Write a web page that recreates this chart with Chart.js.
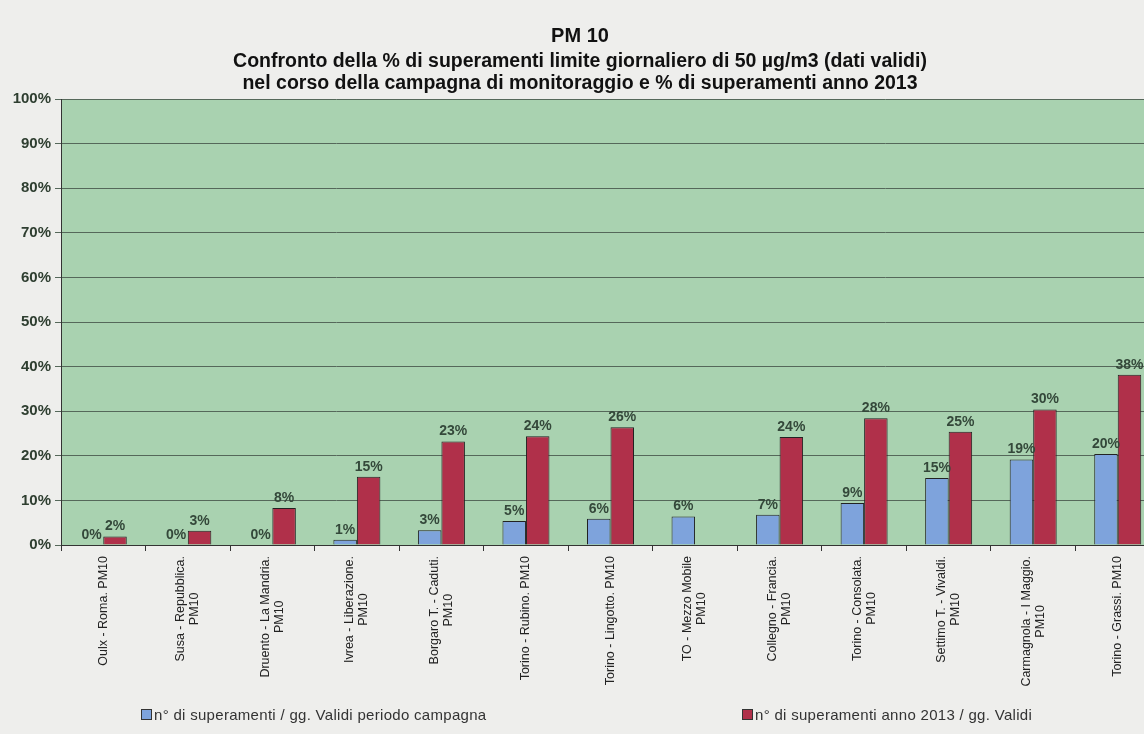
<!DOCTYPE html>
<html>
<head>
<meta charset="utf-8">
<script src="https://cdn.jsdelivr.net/npm/chart.js@4.4.0/dist/chart.umd.min.js"></script>
<style>
  html, body { margin: 0; padding: 0; background: #eeeeec; overflow: hidden; }
  #wrap { position: relative; width: 1144px; height: 734px; overflow: hidden; }
  #chart { position: absolute; left: 0; top: 0; }
  .leg { position: absolute; top: 706px; font: 15px "Liberation Sans", Arial, sans-serif; letter-spacing: 0.3px; color: #333; white-space: nowrap; }
  .leg .box { display: inline-block; width: 9px; height: 9px; border: 1px solid #333; margin-right: 2px; vertical-align: 0px; }
</style>
</head>
<body>
<div id="wrap">
  <canvas id="chart" width="1160" height="734" style="width:1160px;height:734px"></canvas>
  <div id="legend"></div>
</div>
<script>
const chartTitle = "PM 10";
const chartSubtitle = [
    "Confronto della % di superamenti limite giornaliero di 50 µg/m3 (dati validi)",
    "nel corso della campagna di monitoraggio e % di superamenti anno 2013"
];

const stations = [
    "Oulx - Roma. PM10",
    ["Susa - Repubblica.", "PM10"],
    ["Druento - La Mandria.", "PM10"],
    ["Ivrea - Liberazione.", "PM10"],
    ["Borgaro T. - Caduti.", "PM10"],
    "Torino - Rubino. PM10",
    "Torino - Lingotto. PM10",
    ["TO - Mezzo Mobile", "PM10"],
    ["Collegno - Francia.", "PM10"],
    ["Torino - Consolata.", "PM10"],
    ["Settimo T. - Vivaldi.", "PM10"],
    ["Carmagnola - I Maggio.", "PM10"],
    "Torino - Grassi. PM10"
];

const seriesNames = [
    "n° di superamenti / gg. Validi periodo campagna",
    "n° di superamenti  anno 2013 / gg. Validi"
];

// % values
const campaignPct = [0, 0, 0, 1.2, 3.3, 5.4, 5.9, 6.4, 6.8, 9.4, 15.0, 19.2, 20.4];
const year2013Pct = [1.9, 3.2, 8.3, 15.3, 23.2, 24.4, 26.4, null, 24.2, 28.4, 25.4, 30.4, 38.2];

const yTicks = [0, 10, 20, 30, 40, 50, 60, 70, 80, 90, 100];

const seriesColors = ["#7ea3dc", "#b0304a"];
const legendLeft = [141, 742];

const FONT = '"Liberation Sans", Arial, sans-serif';

const plotBg = {
    id: "plotBg",
    beforeDraw(chart) {
        const a = chart.chartArea;
        const ctx = chart.ctx;
        ctx.save();
        ctx.fillStyle = "#a9d2b0";
        ctx.fillRect(a.left, a.top, a.right - a.left, a.bottom - a.top);
        ctx.restore();
    }
};

const barLabels = {
    id: "barLabels",
    afterDatasetsDraw(chart) {
        const ctx = chart.ctx;
        ctx.save();
        ctx.font = "bold 14px " + FONT;
        ctx.fillStyle = "#34483a";
        ctx.textAlign = "center";
        ctx.textBaseline = "bottom";
        chart.data.datasets.forEach((ds, i) => {
            const meta = chart.getDatasetMeta(i);
            meta.data.forEach((bar, j) => {
                const v = ds.data[j];
                if (v === null || v === undefined) return;
                ctx.fillText(Math.round(v) + "%", bar.x, bar.y - 3);
            });
        });
        ctx.restore();
    }
};

// rotated station names, lines centred on each other like in Excel
const stationLabels = {
    id: "stationLabels",
    afterDraw(chart) {
        const sx = chart.scales.x;
        const ctx = chart.ctx;
        const lh = 14;
        ctx.save();
        ctx.font = "12.5px " + FONT;
        ctx.fillStyle = "#222";
        ctx.textAlign = "center";
        ctx.textBaseline = "middle";
        chart.data.labels.forEach((lab, i) => {
            const lines = Array.isArray(lab) ? lab : [lab];
            const w = Math.max(...lines.map(l => ctx.measureText(l).width));
            ctx.save();
            ctx.translate(sx.getPixelForTick(i), sx.top + 11);
            ctx.rotate(-Math.PI / 2);
            lines.forEach((l, k) => {
                ctx.fillText(l, -w / 2, (k - (lines.length - 1) / 2) * lh);
            });
            ctx.restore();
        });
        ctx.restore();
    }
};

const ctx = document.getElementById("chart").getContext("2d");

const chart = new Chart(ctx, {
    type: "bar",
    data: {
        labels: stations,
        datasets: [
            {
                label: seriesNames[0],
                data: campaignPct,
                backgroundColor: seriesColors[0],
                borderColor: "#222",
                borderWidth: 1
            },
            {
                label: seriesNames[1],
                data: year2013Pct,
                backgroundColor: seriesColors[1],
                borderColor: "#222",
                borderWidth: 1
            }
        ]
    },
    options: {
        responsive: false,
        animation: false,
        datasets: {
            bar: { categoryPercentage: 0.556, barPercentage: 1.0 }
        },
        layout: { padding: { left: 0, right: 0, top: 0, bottom: 0 } },
        plugins: {
            legend: { display: false },
            tooltip: { enabled: false },
            title: {
                display: true,
                text: chartTitle,
                color: "#111",
                font: { family: FONT, size: 20, weight: "bold", lineHeight: 1.2 },
                padding: { top: 24, bottom: 2 }
            },
            subtitle: {
                display: true,
                text: chartSubtitle,
                color: "#111",
                font: { family: FONT, size: 19.5, weight: "bold", lineHeight: 1.13 },
                padding: { top: 1, bottom: 4 }
            }
        },
        scales: {
            x: {
                grid: { offset: true, drawOnChartArea: false, drawTicks: true, tickLength: 6, color: "#333" },
                border: { color: "#333", width: 1 },
                ticks: { display: false, autoSkip: false },
                afterFit: (s) => { s.height = 189; }
            },
            y: {
                min: 0,
                max: 100,
                afterBuildTicks: (s) => { s.ticks = yTicks.map(v => ({ value: v })); },
                ticks: {
                    callback: (v) => v + "%",
                    color: "#2e3e30",
                    padding: 4,
                    font: { family: FONT, size: 15, weight: "bold" }
                },
                grid: { color: "#55685a", tickLength: 6, drawTicks: true },
                border: { color: "#333", width: 1 },
                afterFit: (s) => { s.width = 61; }
            }
        }
    },
    plugins: [plotBg, barLabels, stationLabels]
});

// legend below the chart, spread out like the original
const legendEl = document.getElementById("legend");
chart.data.datasets.forEach((ds, i) => {
    const item = document.createElement("div");
    item.className = "leg";
    item.style.left = legendLeft[i] + "px";
    const box = document.createElement("span");
    box.className = "box";
    box.style.background = ds.backgroundColor;
    item.appendChild(box);
    item.appendChild(document.createTextNode(ds.label));
    legendEl.appendChild(item);
});
</script>
</body>
</html>
